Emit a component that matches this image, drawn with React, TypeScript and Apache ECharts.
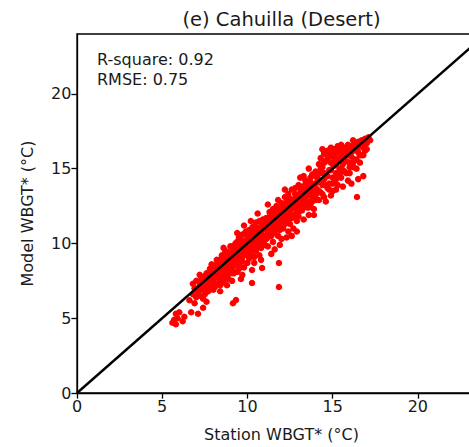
import React, { useEffect, useRef } from "react";
import * as echarts from "echarts";

const titleText = "(e) Cahuilla (Desert)";
const xLabel = "Station WBGT* (°C)";
const yLabel = "Model WBGT* (°C)";
const statLines = ["R-square: 0.92", "RMSE: 0.75"];
const tickValues = [0, 5, 10, 15, 20];
const axisMax = 24;
const oneToOne = [[0, 0], [24, 24]];

const lowTail = [[5.6,4.7],[5.7,4.9],[5.8,4.6],[5.9,5.0],[6.0,5.4],[6.2,4.8],[6.3,5.1],[5.8,5.3],[6.6,6.2],[6.7,5.4],[6.9,6.0],[7.1,5.3],[7.4,5.7],[6.8,6.6],[6.9,7.0],[7.0,6.4],[6.8,7.3],[7.0,7.5]];
const band7 = [[7.1,6.8],[7.2,7.2],[7.2,6.5],[7.3,7.6],[7.3,6.9],[7.4,7.1],[7.4,6.3],[7.5,7.8],[7.5,7.0],[7.5,6.6],[7.6,7.4],[7.6,8.0],[7.7,7.2],[7.7,6.8],[7.8,7.6],[7.8,8.3],[7.8,7.0],[7.9,7.8],[7.9,7.3],[8.0,8.1],[8.0,7.5],[8.0,6.9],[7.2,7.9],[7.6,6.1],[7.9,8.6]];
const band8 = [[8.1,7.8],[8.1,8.4],[8.2,7.3],[8.2,8.0],[8.3,8.7],[8.3,7.7],[8.3,8.2],[8.4,7.5],[8.4,8.9],[8.4,8.0],[8.5,8.4],[8.5,7.8],[8.5,9.2],[8.6,8.1],[8.6,8.6],[8.6,7.4],[8.7,8.9],[8.7,8.3],[8.7,9.5],[8.8,7.9],[8.8,8.6],[8.8,9.1],[8.9,8.3],[8.9,8.8],[8.9,7.6],[9.0,9.3],[9.0,8.5],[9.0,8.0],[8.2,8.9],[8.6,9.7],[8.4,6.8],[8.8,7.2],[9.0,9.8],[8.5,8.0],[8.7,7.7],[8.9,9.4]];
const band9 = [[9.1,8.8],[9.1,9.4],[9.1,8.2],[9.2,9.0],[9.2,9.7],[9.2,8.5],[9.3,9.2],[9.3,8.7],[9.3,10.0],[9.33,6.22],[9.4,9.5],[9.4,8.9],[9.4,8.1],[9.5,9.8],[9.5,9.2],[9.5,10.4],[9.5,8.6],[9.6,9.6],[9.6,9.0],[9.6,10.1],[9.7,9.4],[9.7,8.8],[9.7,10.6],[9.8,9.9],[9.8,9.3],[9.8,8.4],[9.9,10.2],[9.9,9.6],[9.9,10.8],[10.0,9.9],[10.0,9.2],[10.0,10.5],[10.0,8.7],[9.15,6.0],[9.62,7.62],[9.4,10.7],[9.8,11.2],[9.1,7.5],[9.7,7.9]];
const band10 = [[10.1,10.3],[10.1,9.6],[10.1,10.9],[10.2,10.0],[10.2,9.3],[10.2,10.6],[10.3,10.2],[10.3,9.7],[10.3,11.1],[10.27,7.35],[10.27,8.22],[10.4,10.5],[10.4,9.9],[10.4,9.1],[10.5,10.8],[10.5,10.1],[10.5,11.4],[10.5,9.5],[10.6,10.4],[10.6,9.8],[10.6,11.0],[10.7,10.7],[10.7,10.1],[10.7,9.2],[10.8,11.1],[10.8,10.4],[10.8,9.7],[10.9,10.9],[10.9,10.2],[10.9,11.6],[10.86,8.36],[11.0,11.2],[11.0,10.5],[11.0,9.9],[10.2,11.5],[10.6,12.0],[10.4,8.7],[10.8,8.9],[10.1,9.0],[10.7,11.5]];
const band11 = [[11.1,11.0],[11.1,10.3],[11.1,11.7],[11.2,11.3],[11.2,10.7],[11.2,9.8],[11.3,11.5],[11.3,10.9],[11.3,12.1],[11.4,11.2],[11.4,10.5],[11.4,11.8],[11.5,11.6],[11.5,10.9],[11.5,12.3],[11.5,10.1],[11.6,11.4],[11.6,12.0],[11.6,10.7],[11.7,11.7],[11.7,11.1],[11.7,12.5],[11.8,11.9],[11.8,11.3],[11.8,10.5],[11.85,7.09],[11.85,8.69],[11.9,12.2],[11.9,11.5],[11.9,10.9],[12.0,12.0],[12.0,11.4],[12.0,12.7],[12.0,10.3],[11.2,12.6],[11.6,9.6],[11.8,12.9],[11.4,9.3],[11.9,9.9]];
const band12 = [[12.1,12.3],[12.1,11.7],[12.1,11.0],[12.2,12.5],[12.2,11.9],[12.2,13.1],[12.3,12.1],[12.3,11.4],[12.3,12.8],[12.4,12.4],[12.4,11.8],[12.4,13.3],[12.4,10.8],[12.5,12.6],[12.5,12.0],[12.5,11.3],[12.6,12.9],[12.6,12.3],[12.6,13.6],[12.7,12.5],[12.7,11.9],[12.7,11.0],[12.8,13.0],[12.8,12.4],[12.8,13.7],[12.9,12.7],[12.9,12.1],[12.9,11.5],[13.0,13.1],[13.0,12.5],[13.0,11.8],[13.0,13.9],[12.3,10.4],[12.6,10.5],[12.9,10.8],[12.2,13.6]];
const band13 = [[13.1,12.8],[13.1,13.4],[13.2,12.2],[13.2,13.0],[13.2,13.8],[13.3,12.6],[13.3,13.3],[13.3,11.6],[13.4,13.5],[13.4,12.9],[13.4,14.2],[13.5,13.2],[13.5,12.4],[13.5,13.9],[13.6,13.6],[13.6,12.8],[13.6,11.9],[13.7,13.4],[13.7,14.1],[13.7,12.6],[13.8,13.8],[13.8,13.1],[13.8,14.6],[13.9,13.5],[13.9,12.3],[14.0,14.0],[14.0,13.2],[14.0,14.8],[13.3,14.5],[13.6,15.0],[13.9,11.9],[13.1,14.4]];
const band14 = [[14.1,13.6],[14.1,14.4],[14.2,12.9],[14.2,15.3],[14.2,14.1],[14.3,13.4],[14.3,15.7],[14.3,14.7],[14.4,13.9],[14.4,15.1],[14.5,16.0],[14.5,14.3],[14.5,13.1],[14.6,15.5],[14.6,14.6],[14.7,16.2],[14.7,13.7],[14.8,15.8],[14.8,14.9],[14.8,14.0],[14.9,16.4],[14.9,15.4],[15.0,15.9],[15.0,14.4],[15.0,13.5],[14.4,16.3],[14.6,12.8],[14.9,13.2]];
const band15 = [[15.1,16.3],[15.1,15.2],[15.2,16.0],[15.2,14.7],[15.3,16.5],[15.3,15.6],[15.3,13.9],[15.4,16.2],[15.4,15.0],[15.5,16.6],[15.5,15.8],[15.5,14.4],[15.6,16.1],[15.6,15.3],[15.7,16.4],[15.7,14.8],[15.8,16.0],[15.8,15.5],[15.9,16.6],[15.9,14.2],[16.0,16.2],[16.0,15.4],[16.0,14.7],[15.2,13.6],[15.6,13.8],[15.1,14.1]];
const band16 = [[16.1,16.5],[16.1,15.8],[16.2,16.9],[16.2,15.1],[16.3,16.3],[16.3,15.6],[16.4,16.7],[16.43,13.1],[16.4,15.0],[16.5,16.1],[16.5,16.8],[16.6,15.4],[16.6,16.5],[16.7,16.9],[16.7,15.9],[16.8,16.4],[16.9,17.0],[16.9,16.2],[17.0,16.7],[17.1,17.1],[17.2,16.9],[16.8,14.5],[16.5,14.3],[16.1,14.0]];
const coreLine = [[7.3,7.3],[7.6,7.6],[7.8,7.9],[8.0,7.8],[8.2,8.3],[8.3,8.4],[8.5,8.6],[8.6,8.8],[8.8,8.9],[8.9,9.1],[9.0,9.0],[9.1,9.2],[9.2,9.3],[9.3,9.5],[9.4,9.3],[9.5,9.6],[9.6,9.8],[9.7,9.7],[9.8,10.1],[9.9,9.9],[10.0,10.2],[10.1,10.1],[10.2,10.4],[10.3,10.5],[10.4,10.3],[10.5,10.6],[10.6,10.7],[10.7,10.9],[10.8,10.7],[10.9,11.1],[11.0,11.0],[11.1,11.3],[11.2,11.1],[11.3,11.3],[11.4,11.5],[11.5,11.3],[11.6,11.7],[11.7,11.5],[11.8,11.7],[11.9,11.9],[12.0,11.8],[12.1,12.1],[12.2,12.2],[12.3,12.3],[12.4,12.1],[12.5,12.4],[12.6,12.6],[12.7,12.8],[12.8,12.6],[12.9,12.9],[13.0,12.8],[13.1,13.1],[13.2,13.3],[13.3,13.0],[13.4,13.3],[13.5,13.6],[13.6,13.3],[13.7,13.8],[13.8,13.5],[13.9,13.9],[14.0,13.7],[14.1,14.1],[14.3,14.2],[14.5,14.7],[14.7,14.5],[14.9,14.9],[15.0,15.3],[15.2,15.3],[15.4,15.6],[15.6,15.7],[15.8,15.9],[16.0,15.9],[16.2,16.2],[16.4,16.3],[16.6,16.7],[16.8,16.7],[17.0,17.0]];
const coreBelow = [[8.1,7.1],[8.4,7.2],[8.7,8.1],[8.9,8.0],[9.2,8.0],[9.5,8.3],[9.7,9.1],[9.9,9.3],[10.0,9.5],[10.2,9.8],[10.4,9.6],[10.6,10.1],[10.8,10.0],[11.0,10.2],[11.2,10.4],[11.4,10.8],[11.6,10.9],[11.8,11.1],[12.0,11.1],[12.2,11.3],[12.4,11.5],[12.6,11.7],[12.8,11.8],[13.0,12.1],[13.2,12.5],[13.4,12.6],[13.6,12.4],[13.8,12.8],[14.0,12.9],[14.2,13.5],[14.4,13.3],[14.6,13.9],[14.8,13.6],[15.0,14.0],[15.2,14.3],[15.4,14.6],[15.6,14.9],[15.8,14.7],[16.0,15.1],[16.2,15.4],[16.4,15.6],[16.6,15.9],[16.8,15.9],[17.0,16.3]];
const coreAbove = [[8.2,8.6],[8.7,9.2],[9.1,9.8],[9.4,10.1],[9.6,10.4],[10.0,10.8],[10.3,10.8],[10.5,11.1],[10.8,11.4],[11.0,11.6],[11.3,11.8],[11.5,12.0],[11.8,12.3],[12.0,12.4],[12.3,12.6],[12.5,13.0],[12.8,13.3],[13.1,13.7],[13.4,13.9],[13.7,14.4],[14.0,14.5],[14.3,15.0],[14.5,15.4],[14.7,15.7],[14.9,16.0],[15.1,15.7],[15.3,16.2],[15.5,16.3],[15.7,15.9],[15.9,16.3],[16.1,16.1],[16.3,16.7]];

const points = [...lowTail, ...band7, ...band8, ...band9, ...band10, ...band11, ...band12, ...band13, ...band14, ...band15, ...band16, ...coreLine, ...coreBelow, ...coreAbove];

const FONT = "DejaVu Sans";

export default function App() {
  const ref = useRef<HTMLDivElement>(null);
  useEffect(() => {
    if (!ref.current) return;
    const chart = echarts.init(ref.current, null, { renderer: "svg" });
    const axisCommon = {
      type: "value",
      min: 0,
      max: axisMax,
      splitLine: { show: false },
      axisLine: { show: true, onZero: false, lineStyle: { color: "#000", width: 1.3 } },
      axisTick: { show: true, inside: false, length: 5.6, customValues: tickValues, lineStyle: { color: "#000", width: 1.3 } },
      axisLabel: { show: true, margin: 5.6, customValues: tickValues, color: "#1a1a1a", fontFamily: FONT, fontSize: 16 },
    };
    chart.setOption({
      animation: false,
      grid: { left: 77, top: 34, width: 409, height: 359, show: true, borderColor: "#000", borderWidth: 1.3, backgroundColor: "transparent" },
      xAxis: { ...axisCommon },
      yAxis: { ...axisCommon },
      graphic: [
        { type: "text", x: 281.5, y: 19, style: { text: titleText, font: `19.5px "${FONT}"`, fill: "#1a1a1a", align: "center", verticalAlign: "middle" } },
        { type: "text", x: 281.5, y: 434, style: { text: xLabel, font: `16px "${FONT}"`, fill: "#1a1a1a", align: "center", verticalAlign: "middle" } },
        { type: "text", x: 27, y: 213.5, rotation: Math.PI / 2, style: { text: yLabel, font: `16px "${FONT}"`, fill: "#1a1a1a", align: "center", verticalAlign: "middle" } },
        { type: "text", x: 97, y: 59, style: { text: statLines[0], font: `16px "${FONT}"`, fill: "#1a1a1a", align: "left", verticalAlign: "middle" } },
        { type: "text", x: 97, y: 79, style: { text: statLines[1], font: `16px "${FONT}"`, fill: "#1a1a1a", align: "left", verticalAlign: "middle" } },
      ],
      series: [
        { type: "scatter", data: points, symbolSize: 6.5, itemStyle: { color: "#ff0000", opacity: 1 }, z: 2, silent: true },
        { type: "line", data: oneToOne, symbol: "none", lineStyle: { color: "#000", width: 2.4 }, z: 3, silent: true, clip: true },
      ],
    });
    return () => chart.dispose();
  }, []);
  return (
    <div style={{ position: "fixed", left: 0, top: 0, width: 469, height: 447, overflow: "hidden", background: "#fff" }}>
      <div ref={ref} style={{ width: 520, height: 447 }} />
    </div>
  );
}
